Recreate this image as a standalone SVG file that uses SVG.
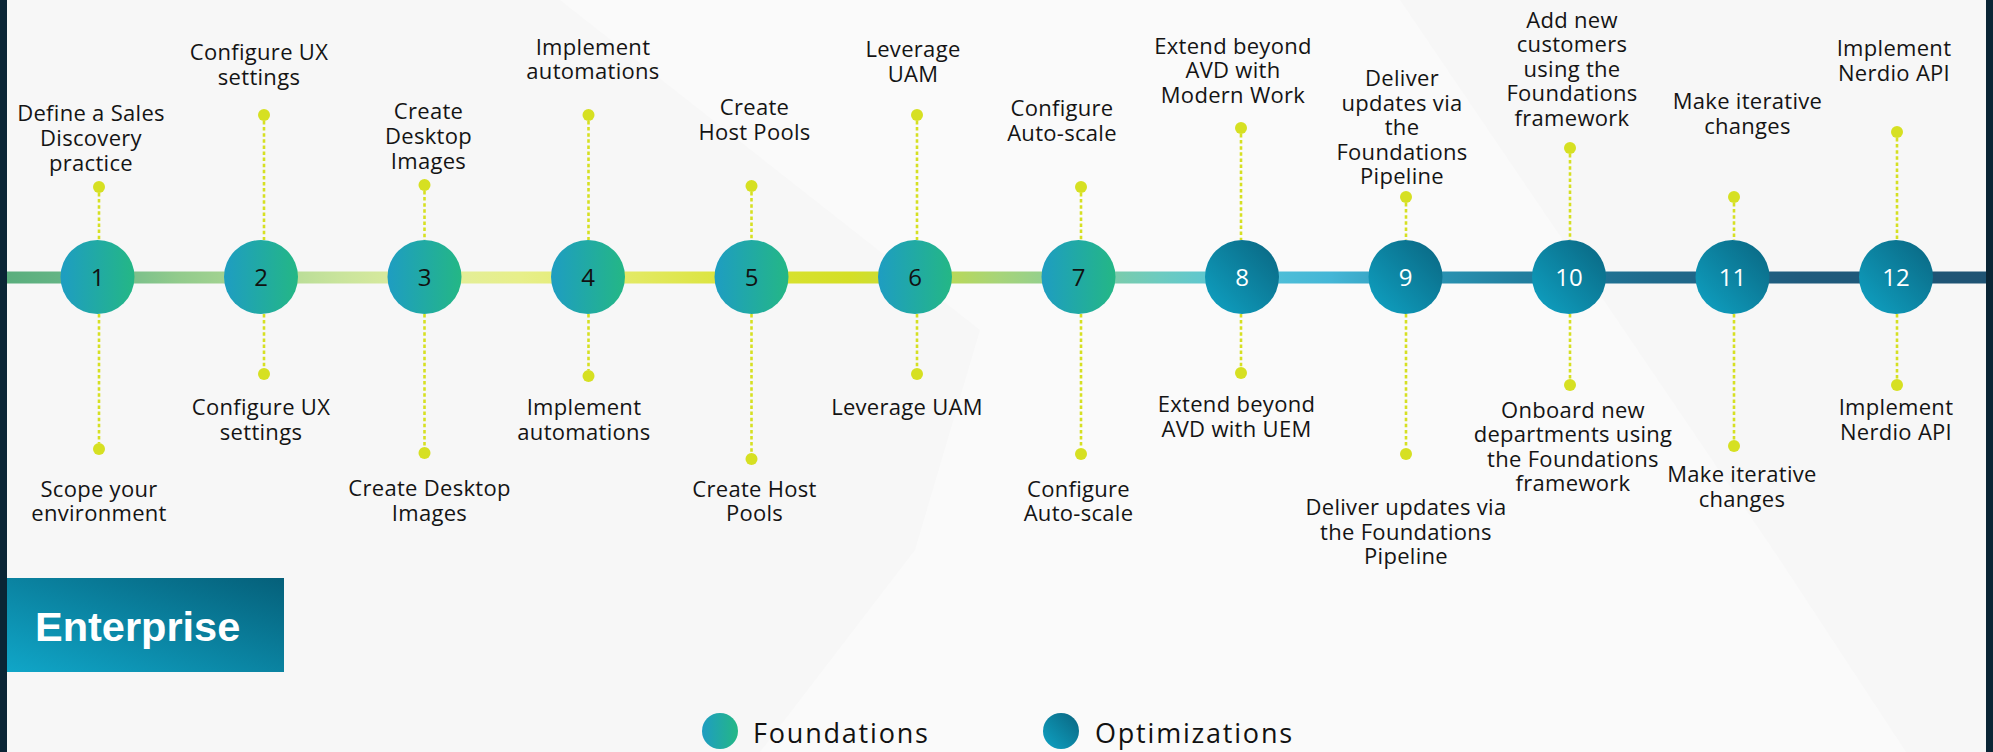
<svg xmlns="http://www.w3.org/2000/svg" width="1993" height="752" viewBox="0 0 1993 752">
<defs>
<style>
.lbl{font-family:"Open Sans","Liberation Sans",sans-serif;font-size:22px;font-weight:500;fill:#141414;text-anchor:middle;letter-spacing:0.3px}
.num{font-family:"Open Sans","Liberation Sans",sans-serif;font-size:24px;font-weight:500;text-anchor:middle}
.dark{fill:#111}
.light{fill:#fff}
.dot{fill:#d6e022}
.lead{stroke:#d6e022;stroke-width:2.6;stroke-dasharray:3.5 2.6;fill:none}
.leg{font-family:"Open Sans","Liberation Sans",sans-serif;font-size:27px;font-weight:400;fill:#111;letter-spacing:1.8px}
</style>
<linearGradient id="gFound" x1="0" y1="0" x2="1" y2="0">
<stop offset="0" stop-color="#1e9dc2"/>
<stop offset="1" stop-color="#24b785"/>
</linearGradient>
<linearGradient id="gOpt" x1="0" y1="1" x2="1" y2="0">
<stop offset="0" stop-color="#0fa3c4"/>
<stop offset="1" stop-color="#0a6580"/>
</linearGradient>
<linearGradient id="gEnt" x1="0" y1="1" x2="1" y2="0">
<stop offset="0" stop-color="#10a6c8"/>
<stop offset="1" stop-color="#05607a"/>
</linearGradient>
<linearGradient id="gBar" gradientUnits="userSpaceOnUse" x1="7" y1="0" x2="1986" y2="0">
<stop offset="0" stop-color="#5aae7d"/>
<stop offset="0.047" stop-color="#6bb98a"/>
<stop offset="0.087" stop-color="#92cb8c"/>
<stop offset="0.168" stop-color="#c9e49c"/>
<stop offset="0.214" stop-color="#e2ee9e"/>
<stop offset="0.259" stop-color="#e7ef8a"/>
<stop offset="0.320" stop-color="#e2e960"/>
<stop offset="0.376" stop-color="#d9e233"/>
<stop offset="0.426" stop-color="#d4df26"/>
<stop offset="0.461" stop-color="#c4db45"/>
<stop offset="0.502" stop-color="#a6d47a"/>
<stop offset="0.542" stop-color="#85cc9c"/>
<stop offset="0.583" stop-color="#6ccbc0"/>
<stop offset="0.623" stop-color="#55c4d9"/>
<stop offset="0.669" stop-color="#44b6d6"/>
<stop offset="0.714" stop-color="#2c97b6"/>
<stop offset="0.765" stop-color="#217f9f"/>
<stop offset="0.830" stop-color="#1f6b8d"/>
<stop offset="0.906" stop-color="#1f5b7d"/>
<stop offset="1" stop-color="#1f5373"/>
</linearGradient>
</defs>

<g id="background">
<rect x="0" y="0" width="1993" height="752" fill="#f7f7f7"/>
<polygon points="560,0 1400,0 1780,560 1906,752 760,752 915,550 980,330" fill="#fafafa"/>
<rect x="0" y="0" width="7" height="752" fill="#0a2535"/>
<rect x="1986" y="0" width="7" height="752" fill="#0a2535"/>
</g>

<g id="connectors">
<rect x="7" y="271.5" width="1979" height="12" fill="url(#gBar)"/>
<line class="lead" x1="99" y1="193" x2="99" y2="240"/>
<line class="lead" x1="99" y1="314" x2="99" y2="443"/>
<line class="lead" x1="264" y1="121" x2="264" y2="240"/>
<line class="lead" x1="264" y1="314" x2="264" y2="368"/>
<line class="lead" x1="424.5" y1="191" x2="424.5" y2="240"/>
<line class="lead" x1="424.5" y1="314" x2="424.5" y2="447"/>
<line class="lead" x1="588.5" y1="121" x2="588.5" y2="240"/>
<line class="lead" x1="588.5" y1="314" x2="588.5" y2="370"/>
<line class="lead" x1="751.5" y1="192" x2="751.5" y2="240"/>
<line class="lead" x1="751.5" y1="314" x2="751.5" y2="453"/>
<line class="lead" x1="917" y1="121" x2="917" y2="240"/>
<line class="lead" x1="917" y1="314" x2="917" y2="368"/>
<line class="lead" x1="1081" y1="193" x2="1081" y2="240"/>
<line class="lead" x1="1081" y1="314" x2="1081" y2="448"/>
<line class="lead" x1="1241" y1="134" x2="1241" y2="240"/>
<line class="lead" x1="1241" y1="314" x2="1241" y2="367"/>
<line class="lead" x1="1406" y1="203" x2="1406" y2="240"/>
<line class="lead" x1="1406" y1="314" x2="1406" y2="448"/>
<line class="lead" x1="1570" y1="154" x2="1570" y2="240"/>
<line class="lead" x1="1570" y1="314" x2="1570" y2="379"/>
<line class="lead" x1="1734" y1="203" x2="1734" y2="240"/>
<line class="lead" x1="1734" y1="314" x2="1734" y2="440"/>
<line class="lead" x1="1897" y1="138" x2="1897" y2="240"/>
<line class="lead" x1="1897" y1="314" x2="1897" y2="379"/>
</g>

<g id="node-1">
<circle cx="97.5" cy="277" r="37" fill="url(#gFound)"/>
<text class="num dark" x="97.5" y="286">1</text>
<circle class="dot" cx="99" cy="187" r="6"/>
<circle class="dot" cx="99" cy="449" r="6"/>
<text class="lbl"><tspan x="91" y="121">Define a Sales</tspan><tspan x="91" y="146">Discovery</tspan><tspan x="91" y="171">practice</tspan></text>
<text class="lbl"><tspan x="99" y="497">Scope your</tspan><tspan x="99" y="521">environment</tspan></text>
</g>

<g id="node-2">
<circle cx="261" cy="277" r="37" fill="url(#gFound)"/>
<text class="num dark" x="261" y="286">2</text>
<circle class="dot" cx="264" cy="115" r="6"/>
<circle class="dot" cx="264" cy="374" r="6"/>
<text class="lbl"><tspan x="259" y="60">Configure UX</tspan><tspan x="259" y="84.5">settings</tspan></text>
<text class="lbl"><tspan x="261" y="415">Configure UX</tspan><tspan x="261" y="439.5">settings</tspan></text>
</g>

<g id="node-3">
<circle cx="424.5" cy="277" r="37" fill="url(#gFound)"/>
<text class="num dark" x="424.5" y="286">3</text>
<circle class="dot" cx="424.5" cy="185" r="6"/>
<circle class="dot" cx="424.5" cy="453" r="6"/>
<text class="lbl"><tspan x="428.5" y="119">Create</tspan><tspan x="428.5" y="144">Desktop</tspan><tspan x="428.5" y="169">Images</tspan></text>
<text class="lbl"><tspan x="429.5" y="496">Create Desktop</tspan><tspan x="429.5" y="520.5">Images</tspan></text>
</g>

<g id="node-4">
<circle cx="588" cy="277" r="37" fill="url(#gFound)"/>
<text class="num dark" x="588" y="286">4</text>
<circle class="dot" cx="588.5" cy="115" r="6"/>
<circle class="dot" cx="588.5" cy="376" r="6"/>
<text class="lbl"><tspan x="593" y="54.5">Implement</tspan><tspan x="593" y="79">automations</tspan></text>
<text class="lbl"><tspan x="584" y="415">Implement</tspan><tspan x="584" y="439.5">automations</tspan></text>
</g>

<g id="node-5">
<circle cx="751.5" cy="277" r="37" fill="url(#gFound)"/>
<text class="num dark" x="751.5" y="286">5</text>
<circle class="dot" cx="751.5" cy="186" r="6"/>
<circle class="dot" cx="751.5" cy="459" r="6"/>
<text class="lbl"><tspan x="754.5" y="115">Create</tspan><tspan x="754.5" y="139.5">Host Pools</tspan></text>
<text class="lbl"><tspan x="754.5" y="497">Create Host</tspan><tspan x="754.5" y="521">Pools</tspan></text>
</g>

<g id="node-6">
<circle cx="915" cy="277" r="37" fill="url(#gFound)"/>
<text class="num dark" x="915" y="286">6</text>
<circle class="dot" cx="917" cy="115" r="6"/>
<circle class="dot" cx="917" cy="374" r="6"/>
<text class="lbl"><tspan x="913" y="57">Leverage</tspan><tspan x="913" y="81.5">UAM</tspan></text>
<text class="lbl" x="907" y="415">Leverage UAM</text>
</g>

<g id="node-7">
<circle cx="1078.5" cy="277" r="37" fill="url(#gFound)"/>
<text class="num dark" x="1078.5" y="286">7</text>
<circle class="dot" cx="1081" cy="187" r="6"/>
<circle class="dot" cx="1081" cy="454" r="6"/>
<text class="lbl"><tspan x="1062" y="116">Configure</tspan><tspan x="1062" y="140.5">Auto-scale</tspan></text>
<text class="lbl"><tspan x="1078.5" y="497">Configure</tspan><tspan x="1078.5" y="521">Auto-scale</tspan></text>
</g>

<g id="node-8">
<circle cx="1242" cy="277" r="37" fill="url(#gOpt)"/>
<text class="num light" x="1242" y="286">8</text>
<circle class="dot" cx="1241" cy="128" r="6"/>
<circle class="dot" cx="1241" cy="373" r="6"/>
<text class="lbl"><tspan x="1233" y="53.5">Extend beyond</tspan><tspan x="1233" y="78">AVD with</tspan><tspan x="1233" y="102.5">Modern Work</tspan></text>
<text class="lbl"><tspan x="1236.5" y="412">Extend beyond</tspan><tspan x="1236.5" y="436.5">AVD with UEM</tspan></text>
</g>

<g id="node-9">
<circle cx="1405.5" cy="277" r="37" fill="url(#gOpt)"/>
<text class="num light" x="1405.5" y="286">9</text>
<circle class="dot" cx="1406" cy="197" r="6"/>
<circle class="dot" cx="1406" cy="454" r="6"/>
<text class="lbl"><tspan x="1402" y="86">Deliver</tspan><tspan x="1402" y="110.5">updates via</tspan><tspan x="1402" y="135">the</tspan><tspan x="1402" y="159.5">Foundations</tspan><tspan x="1402" y="184">Pipeline</tspan></text>
<text class="lbl"><tspan x="1406" y="515">Deliver updates via</tspan><tspan x="1406" y="539.5">the Foundations</tspan><tspan x="1406" y="564">Pipeline</tspan></text>
</g>

<g id="node-10">
<circle cx="1569" cy="277" r="37" fill="url(#gOpt)"/>
<text class="num light" x="1569" y="286">10</text>
<circle class="dot" cx="1570" cy="148" r="6"/>
<circle class="dot" cx="1570" cy="385" r="6"/>
<text class="lbl"><tspan x="1572" y="27.5">Add new</tspan><tspan x="1572" y="52">customers</tspan><tspan x="1572" y="76.5">using the</tspan><tspan x="1572" y="101">Foundations</tspan><tspan x="1572" y="125.5">framework</tspan></text>
<text class="lbl"><tspan x="1573" y="417.5">Onboard new</tspan><tspan x="1573" y="442">departments using</tspan><tspan x="1573" y="466.5">the Foundations</tspan><tspan x="1573" y="491">framework</tspan></text>
</g>

<g id="node-11">
<circle cx="1732.5" cy="277" r="37" fill="url(#gOpt)"/>
<text class="num light" x="1732.5" y="286">11</text>
<circle class="dot" cx="1734" cy="197" r="6"/>
<circle class="dot" cx="1734" cy="446" r="6"/>
<text class="lbl"><tspan x="1747.5" y="109">Make iterative</tspan><tspan x="1747.5" y="133.5">changes</tspan></text>
<text class="lbl"><tspan x="1742" y="482">Make iterative</tspan><tspan x="1742" y="506.5">changes</tspan></text>
</g>

<g id="node-12">
<circle cx="1896" cy="277" r="37" fill="url(#gOpt)"/>
<text class="num light" x="1896" y="286">12</text>
<circle class="dot" cx="1897" cy="132" r="6"/>
<circle class="dot" cx="1897" cy="385" r="6"/>
<text class="lbl"><tspan x="1894" y="56">Implement</tspan><tspan x="1894" y="80.5">Nerdio API</tspan></text>
<text class="lbl"><tspan x="1896" y="415">Implement</tspan><tspan x="1896" y="439.5">Nerdio API</tspan></text>
</g>

<g id="enterprise">
<rect x="7" y="578" width="277" height="94" fill="url(#gEnt)"/>
<text x="35" y="641" font-family="'Liberation Sans',Arial,sans-serif" font-size="41.5" font-weight="700" fill="#fff">Enterprise</text>
</g>

<g id="legend">
<circle cx="720" cy="731" r="18" fill="url(#gFound)"/>
<text class="leg" x="753" y="743">Foundations</text>
<circle cx="1061" cy="731" r="18" fill="url(#gOpt)"/>
<text class="leg" x="1095" y="743">Optimizations</text>
</g>
</svg>
